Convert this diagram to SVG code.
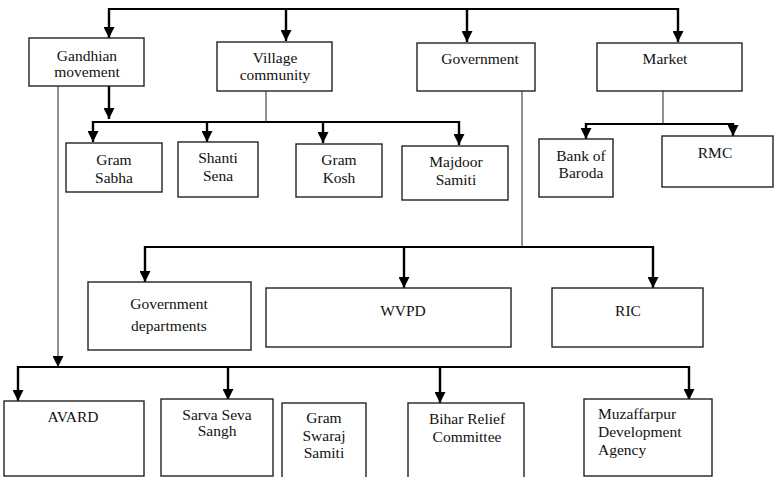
<svg xmlns="http://www.w3.org/2000/svg" width="775" height="477" viewBox="0 0 775 477">
<style>
.box{fill:#fff;stroke:#222;stroke-width:1.4}
text{font-family:'Liberation Serif','DejaVu Serif',serif;font-size:15.5px;fill:#111}
.t{text-anchor:middle}
.thick{stroke:#000;stroke-width:2;fill:none}
.thin{stroke:#222;stroke-width:1;fill:none}
.arr{stroke:#000;stroke-width:2.4;fill:none;marker-end:url(#ah)}
.arrthin{stroke:#222;stroke-width:1;fill:none;marker-end:url(#ah)}
</style>
<defs>
<marker id="ah" markerUnits="userSpaceOnUse" markerWidth="11" markerHeight="11" refX="11" refY="5.5" orient="auto">
<path d="M0,0 L11,5.5 L0,11 z" fill="#000"/>
</marker>
</defs>
<rect width="775" height="477" fill="#fff"/>
<g id="connectors">
<line class="thick" x1="108" y1="9" x2="679" y2="9"/>
<line class="arr" x1="109" y1="8" x2="109" y2="38"/>
<line class="arr" x1="286" y1="8" x2="286" y2="41"/>
<line class="arr" x1="467" y1="8" x2="467" y2="42"/>
<line class="arr" x1="678" y1="8" x2="678" y2="42"/>
<line class="arr" x1="109" y1="86" x2="109" y2="119"/>
<line class="thin" x1="266" y1="91" x2="266" y2="122"/>
<line class="thick" x1="92" y1="122" x2="460" y2="122"/>
<line class="arr" x1="93" y1="121" x2="93" y2="142"/>
<line class="arr" x1="207" y1="121" x2="207" y2="142"/>
<line class="arr" x1="323" y1="121" x2="323" y2="143"/>
<line class="arr" x1="459" y1="121" x2="459" y2="145"/>
<line class="thin" x1="663" y1="91" x2="663" y2="124"/>
<line class="thick" x1="585" y1="124" x2="734" y2="124"/>
<line class="arr" x1="586" y1="123" x2="586" y2="139"/>
<line class="arr" x1="733" y1="123" x2="733" y2="136"/>
<line class="thin" x1="522" y1="91" x2="522" y2="247"/>
<line class="thick" x1="144" y1="247" x2="654" y2="247"/>
<line class="arr" x1="145" y1="246" x2="145" y2="282"/>
<line class="arr" x1="404" y1="246" x2="404" y2="288"/>
<line class="arr" x1="653" y1="246" x2="653" y2="288"/>
<line class="arrthin" x1="58" y1="86" x2="58" y2="367"/>
<line class="thick" x1="17" y1="367" x2="690" y2="367"/>
<line class="arr" x1="18" y1="366" x2="18" y2="401"/>
<line class="arr" x1="228" y1="366" x2="228" y2="400"/>
<line class="arr" x1="440" y1="366" x2="440" y2="403"/>
<line class="arr" x1="689" y1="366" x2="689" y2="400"/>
</g>
<g id="gandhian"><rect class="box" x="29" y="38" width="115" height="48"/><text class="t" x="87" y="61">Gandhian</text><text class="t" x="87" y="77">movement</text></g>
<g id="village"><rect class="box" x="217" y="42" width="115" height="49"/><text class="t" x="275" y="63">Village</text><text class="t" x="275" y="80">community</text></g>
<g id="government"><rect class="box" x="417" y="43" width="118" height="48"/><text class="t" x="480" y="64">Government</text></g>
<g id="market"><rect class="box" x="597" y="43" width="145" height="48"/><text class="t" x="665" y="64">Market</text></g>
<g id="gram-sabha"><rect class="box" x="66" y="143" width="96" height="49"/><text class="t" x="114" y="165">Gram</text><text class="t" x="114" y="183">Sabha</text></g>
<g id="shanti-sena"><rect class="box" x="178" y="142" width="80" height="55"/><text class="t" x="218" y="163">Shanti</text><text class="t" x="218" y="181">Sena</text></g>
<g id="gram-kosh"><rect class="box" x="296" y="144" width="86" height="53"/><text class="t" x="339" y="165">Gram</text><text class="t" x="339" y="183">Kosh</text></g>
<g id="majdoor-samiti"><rect class="box" x="402" y="146" width="106" height="54"/><text class="t" x="456" y="167">Majdoor</text><text class="t" x="456" y="185">Samiti</text></g>
<g id="bank-of-baroda"><rect class="box" x="539" y="139" width="74" height="58"/><text class="t" x="581" y="161">Bank of</text><text class="t" x="581" y="178">Baroda</text></g>
<g id="rmc"><rect class="box" x="662" y="136" width="111" height="51"/><text class="t" x="715" y="158">RMC</text></g>
<g id="government-departments"><rect class="box" x="88" y="282" width="163" height="68"/><text class="t" x="169" y="309">Government</text><text class="t" x="169" y="331">departments</text></g>
<g id="wvpd"><rect class="box" x="266" y="288" width="245" height="59"/><text class="t" x="403" y="316">WVPD</text></g>
<g id="ric"><rect class="box" x="552" y="288" width="151" height="59"/><text class="t" x="628" y="316">RIC</text></g>
<g id="avard"><rect class="box" x="4" y="401" width="140" height="75"/><text class="t" x="73" y="422">AVARD</text></g>
<g id="sarva-seva-sangh"><rect class="box" x="161" y="399" width="112" height="77"/><text class="t" x="217" y="420">Sarva Seva</text><text class="t" x="217" y="436">Sangh</text></g>
<g id="gram-swaraj-samiti"><rect class="box" x="282" y="403" width="84" height="80"/><text class="t" x="324" y="423">Gram</text><text class="t" x="324" y="441">Swaraj</text><text class="t" x="324" y="458">Samiti</text></g>
<g id="bihar-relief-committee"><rect class="box" x="408" y="403" width="116" height="80"/><text class="t" x="467" y="424">Bihar Relief</text><text class="t" x="467" y="442">Committee</text></g>
<g id="muzaffarpur-development-agency"><rect class="box" x="584" y="399" width="128" height="77"/><text x="598" y="419">Muzaffarpur</text><text x="598" y="437">Development</text><text x="598" y="455">Agency</text></g>
</svg>
